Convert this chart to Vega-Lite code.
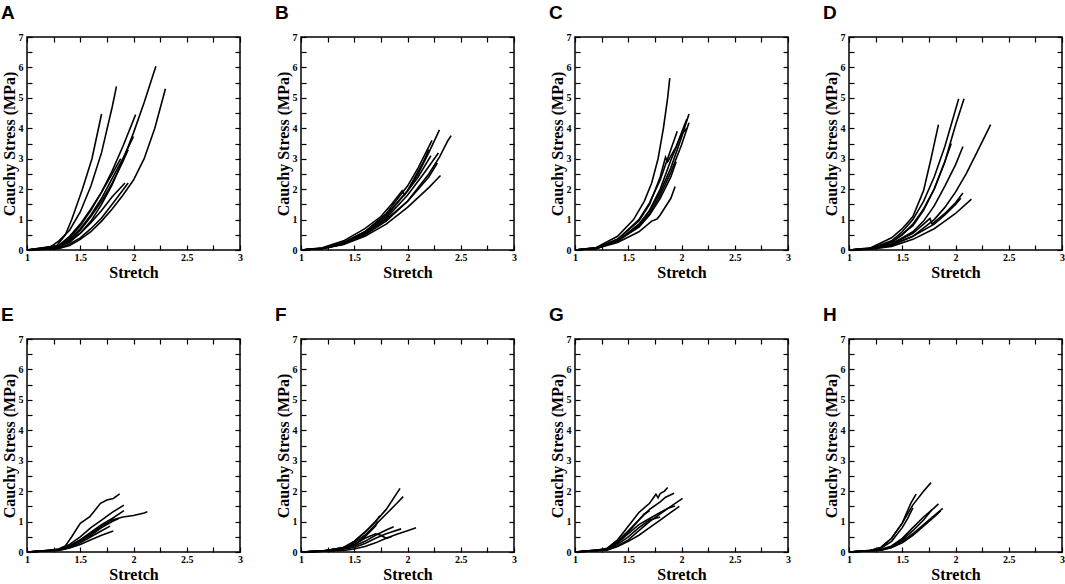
{
  "$schema": "https://vega.github.io/schema/vega-lite/v6.json",
  "background": "white",
  "padding": {"left": 0, "top": 3, "right": 2, "bottom": 1},
  "bounds": "flush",
  "columns": 4,
  "spacing": {"row": 89, "column": 61},
  "data": {
    "values": [
      {"p":"A","c":1,"x":1,"y":0},{"p":"A","c":1,"x":1.2,"y":0.05},{"p":"A","c":1,"x":1.27,"y":0.1},{"p":"A","c":1,"x":1.36,"y":0.5},{"p":"A","c":1,"x":1.42,"y":1.0},{"p":"A","c":1,"x":1.52,"y":2.0},{"p":"A","c":1,"x":1.61,"y":3.0},{"p":"A","c":1,"x":1.7,"y":4.47},
      {"p":"A","c":2,"x":1,"y":0},{"p":"A","c":2,"x":1.2,"y":0.05},{"p":"A","c":2,"x":1.3,"y":0.3},{"p":"A","c":2,"x":1.4,"y":0.65},{"p":"A","c":2,"x":1.5,"y":1.25},{"p":"A","c":2,"x":1.6,"y":2.1},{"p":"A","c":2,"x":1.7,"y":3.2},{"p":"A","c":2,"x":1.8,"y":4.7},{"p":"A","c":2,"x":1.84,"y":5.38},
      {"p":"A","c":3,"x":1,"y":0},{"p":"A","c":3,"x":1.2,"y":0.03},{"p":"A","c":3,"x":1.3,"y":0.1},{"p":"A","c":3,"x":1.4,"y":0.25},{"p":"A","c":3,"x":1.5,"y":0.55},{"p":"A","c":3,"x":1.6,"y":0.95},{"p":"A","c":3,"x":1.7,"y":1.5},{"p":"A","c":3,"x":1.8,"y":2.15},{"p":"A","c":3,"x":1.9,"y":2.95},{"p":"A","c":3,"x":2.0,"y":3.85},{"p":"A","c":3,"x":2.1,"y":4.85},{"p":"A","c":3,"x":2.21,"y":6.04},
      {"p":"A","c":4,"x":1,"y":0},{"p":"A","c":4,"x":1.3,"y":0.05},{"p":"A","c":4,"x":1.4,"y":0.15},{"p":"A","c":4,"x":1.5,"y":0.35},{"p":"A","c":4,"x":1.6,"y":0.6},{"p":"A","c":4,"x":1.7,"y":0.95},{"p":"A","c":4,"x":1.8,"y":1.35},{"p":"A","c":4,"x":1.9,"y":1.8},{"p":"A","c":4,"x":2.0,"y":2.3},{"p":"A","c":4,"x":2.1,"y":3.0},{"p":"A","c":4,"x":2.2,"y":4.0},{"p":"A","c":4,"x":2.3,"y":5.3},
      {"p":"A","c":5,"x":1,"y":0},{"p":"A","c":5,"x":1.3,"y":0.15},{"p":"A","c":5,"x":1.4,"y":0.4},{"p":"A","c":5,"x":1.5,"y":0.8},{"p":"A","c":5,"x":1.6,"y":1.3},{"p":"A","c":5,"x":1.7,"y":1.9},{"p":"A","c":5,"x":1.8,"y":2.6},{"p":"A","c":5,"x":1.9,"y":3.4},{"p":"A","c":5,"x":2.02,"y":4.45},
      {"p":"A","c":6,"x":1,"y":0},{"p":"A","c":6,"x":1.3,"y":0.12},{"p":"A","c":6,"x":1.4,"y":0.35},{"p":"A","c":6,"x":1.5,"y":0.7},{"p":"A","c":6,"x":1.6,"y":1.15},{"p":"A","c":6,"x":1.7,"y":1.7},{"p":"A","c":6,"x":1.8,"y":2.35},{"p":"A","c":6,"x":1.9,"y":3.0},{"p":"A","c":6,"x":2.0,"y":3.73},
      {"p":"A","c":7,"x":1,"y":0},{"p":"A","c":7,"x":1.3,"y":0.1},{"p":"A","c":7,"x":1.4,"y":0.3},{"p":"A","c":7,"x":1.5,"y":0.65},{"p":"A","c":7,"x":1.6,"y":1.1},{"p":"A","c":7,"x":1.7,"y":1.6},{"p":"A","c":7,"x":1.8,"y":2.2},{"p":"A","c":7,"x":1.9,"y":2.9},{"p":"A","c":7,"x":1.95,"y":3.3},
      {"p":"A","c":8,"x":1,"y":0},{"p":"A","c":8,"x":1.3,"y":0.1},{"p":"A","c":8,"x":1.4,"y":0.3},{"p":"A","c":8,"x":1.5,"y":0.55},{"p":"A","c":8,"x":1.6,"y":0.9},{"p":"A","c":8,"x":1.7,"y":1.3},{"p":"A","c":8,"x":1.8,"y":1.75},{"p":"A","c":8,"x":1.92,"y":2.2},
      {"p":"A","c":9,"x":1,"y":0},{"p":"A","c":9,"x":1.3,"y":0.05},{"p":"A","c":9,"x":1.4,"y":0.2},{"p":"A","c":9,"x":1.5,"y":0.4},{"p":"A","c":9,"x":1.6,"y":0.7},{"p":"A","c":9,"x":1.7,"y":1.05},{"p":"A","c":9,"x":1.8,"y":1.5},{"p":"A","c":9,"x":1.95,"y":2.2},
      {"p":"A","c":10,"x":1,"y":0},{"p":"A","c":10,"x":1.3,"y":0.15},{"p":"A","c":10,"x":1.4,"y":0.45},{"p":"A","c":10,"x":1.5,"y":0.85},{"p":"A","c":10,"x":1.6,"y":1.35},{"p":"A","c":10,"x":1.7,"y":1.9},{"p":"A","c":10,"x":1.8,"y":2.5},{"p":"A","c":10,"x":1.88,"y":3.0},

      {"p":"B","c":1,"x":1,"y":0},{"p":"B","c":1,"x":1.2,"y":0.05},{"p":"B","c":1,"x":1.4,"y":0.2},{"p":"B","c":1,"x":1.6,"y":0.55},{"p":"B","c":1,"x":1.8,"y":1.1},{"p":"B","c":1,"x":2.0,"y":1.95},{"p":"B","c":1,"x":2.1,"y":2.5},{"p":"B","c":1,"x":2.2,"y":3.2},{"p":"B","c":1,"x":2.3,"y":3.95},
      {"p":"B","c":2,"x":1,"y":0},{"p":"B","c":2,"x":1.2,"y":0.05},{"p":"B","c":2,"x":1.4,"y":0.2},{"p":"B","c":2,"x":1.6,"y":0.5},{"p":"B","c":2,"x":1.8,"y":0.95},{"p":"B","c":2,"x":2.0,"y":1.6},{"p":"B","c":2,"x":2.2,"y":2.5},{"p":"B","c":2,"x":2.3,"y":3.05},{"p":"B","c":2,"x":2.38,"y":3.6},{"p":"B","c":2,"x":2.41,"y":3.76},
      {"p":"B","c":3,"x":1,"y":0},{"p":"B","c":3,"x":1.2,"y":0.06},{"p":"B","c":3,"x":1.4,"y":0.25},{"p":"B","c":3,"x":1.6,"y":0.6},{"p":"B","c":3,"x":1.8,"y":1.2},{"p":"B","c":3,"x":2.0,"y":2.1},{"p":"B","c":3,"x":2.1,"y":2.7},{"p":"B","c":3,"x":2.23,"y":3.6},
      {"p":"B","c":4,"x":1,"y":0},{"p":"B","c":4,"x":1.2,"y":0.04},{"p":"B","c":4,"x":1.4,"y":0.18},{"p":"B","c":4,"x":1.6,"y":0.45},{"p":"B","c":4,"x":1.8,"y":0.85},{"p":"B","c":4,"x":2.0,"y":1.4},{"p":"B","c":4,"x":2.2,"y":2.05},{"p":"B","c":4,"x":2.31,"y":2.45},
      {"p":"B","c":5,"x":1,"y":0},{"p":"B","c":5,"x":1.2,"y":0.05},{"p":"B","c":5,"x":1.4,"y":0.2},{"p":"B","c":5,"x":1.6,"y":0.5},{"p":"B","c":5,"x":1.8,"y":1.0},{"p":"B","c":5,"x":2.0,"y":1.6},{"p":"B","c":5,"x":2.2,"y":2.4},{"p":"B","c":5,"x":2.28,"y":2.86},
      {"p":"B","c":6,"x":1,"y":0},{"p":"B","c":6,"x":1.2,"y":0.07},{"p":"B","c":6,"x":1.4,"y":0.3},{"p":"B","c":6,"x":1.6,"y":0.7},{"p":"B","c":6,"x":1.75,"y":1.1},{"p":"B","c":6,"x":1.85,"y":1.5},{"p":"B","c":6,"x":1.95,"y":1.95},{"p":"B","c":6,"x":1.97,"y":1.8},{"p":"B","c":6,"x":2.1,"y":2.4},{"p":"B","c":6,"x":2.22,"y":3.1},
      {"p":"B","c":7,"x":1,"y":0},{"p":"B","c":7,"x":1.2,"y":0.05},{"p":"B","c":7,"x":1.4,"y":0.22},{"p":"B","c":7,"x":1.6,"y":0.55},{"p":"B","c":7,"x":1.8,"y":1.05},{"p":"B","c":7,"x":2.0,"y":1.8},{"p":"B","c":7,"x":2.15,"y":2.5},{"p":"B","c":7,"x":2.29,"y":3.19},
      {"p":"B","c":8,"x":1,"y":0},{"p":"B","c":8,"x":1.2,"y":0.06},{"p":"B","c":8,"x":1.4,"y":0.25},{"p":"B","c":8,"x":1.6,"y":0.6},{"p":"B","c":8,"x":1.8,"y":1.15},{"p":"B","c":8,"x":2.0,"y":1.95},{"p":"B","c":8,"x":2.15,"y":2.9},{"p":"B","c":8,"x":2.2,"y":3.3},

      {"p":"C","c":1,"x":1,"y":0},{"p":"C","c":1,"x":1.2,"y":0.08},{"p":"C","c":1,"x":1.4,"y":0.45},{"p":"C","c":1,"x":1.55,"y":1.0},{"p":"C","c":1,"x":1.65,"y":1.6},{"p":"C","c":1,"x":1.72,"y":2.2},{"p":"C","c":1,"x":1.78,"y":3.0},{"p":"C","c":1,"x":1.83,"y":4.0},{"p":"C","c":1,"x":1.87,"y":5.0},{"p":"C","c":1,"x":1.89,"y":5.65},
      {"p":"C","c":2,"x":1,"y":0},{"p":"C","c":2,"x":1.2,"y":0.07},{"p":"C","c":2,"x":1.4,"y":0.35},{"p":"C","c":2,"x":1.6,"y":1.0},{"p":"C","c":2,"x":1.7,"y":1.55},{"p":"C","c":2,"x":1.8,"y":2.3},{"p":"C","c":2,"x":1.9,"y":3.3},{"p":"C","c":2,"x":1.96,"y":3.9},
      {"p":"C","c":3,"x":1,"y":0},{"p":"C","c":3,"x":1.2,"y":0.05},{"p":"C","c":3,"x":1.4,"y":0.3},{"p":"C","c":3,"x":1.6,"y":0.85},{"p":"C","c":3,"x":1.7,"y":1.3},{"p":"C","c":3,"x":1.8,"y":1.9},{"p":"C","c":3,"x":1.9,"y":2.7},{"p":"C","c":3,"x":2.0,"y":3.7},{"p":"C","c":3,"x":2.07,"y":4.47},
      {"p":"C","c":4,"x":1,"y":0},{"p":"C","c":4,"x":1.2,"y":0.05},{"p":"C","c":4,"x":1.4,"y":0.28},{"p":"C","c":4,"x":1.6,"y":0.8},{"p":"C","c":4,"x":1.7,"y":1.2},{"p":"C","c":4,"x":1.8,"y":1.8},{"p":"C","c":4,"x":1.9,"y":2.55},{"p":"C","c":4,"x":2.0,"y":3.45},{"p":"C","c":4,"x":2.07,"y":4.18},
      {"p":"C","c":5,"x":1,"y":0},{"p":"C","c":5,"x":1.2,"y":0.05},{"p":"C","c":5,"x":1.4,"y":0.25},{"p":"C","c":5,"x":1.6,"y":0.6},{"p":"C","c":5,"x":1.72,"y":0.95},{"p":"C","c":5,"x":1.77,"y":1.02},{"p":"C","c":5,"x":1.8,"y":1.15},{"p":"C","c":5,"x":1.9,"y":1.7},{"p":"C","c":5,"x":1.94,"y":2.09},
      {"p":"C","c":6,"x":1,"y":0},{"p":"C","c":6,"x":1.2,"y":0.07},{"p":"C","c":6,"x":1.4,"y":0.35},{"p":"C","c":6,"x":1.6,"y":0.95},{"p":"C","c":6,"x":1.7,"y":1.5},{"p":"C","c":6,"x":1.8,"y":2.4},{"p":"C","c":6,"x":1.85,"y":3.05},{"p":"C","c":6,"x":1.87,"y":2.9},{"p":"C","c":6,"x":1.95,"y":3.4},{"p":"C","c":6,"x":2.05,"y":4.3},
      {"p":"C","c":7,"x":1,"y":0},{"p":"C","c":7,"x":1.2,"y":0.05},{"p":"C","c":7,"x":1.4,"y":0.3},{"p":"C","c":7,"x":1.6,"y":0.8},{"p":"C","c":7,"x":1.7,"y":1.3},{"p":"C","c":7,"x":1.8,"y":2.0},{"p":"C","c":7,"x":1.9,"y":2.95},{"p":"C","c":7,"x":2.0,"y":3.8},{"p":"C","c":7,"x":2.05,"y":4.0},
      {"p":"C","c":8,"x":1,"y":0},{"p":"C","c":8,"x":1.2,"y":0.06},{"p":"C","c":8,"x":1.4,"y":0.3},{"p":"C","c":8,"x":1.6,"y":0.75},{"p":"C","c":8,"x":1.7,"y":1.15},{"p":"C","c":8,"x":1.8,"y":1.7},{"p":"C","c":8,"x":1.9,"y":2.4},{"p":"C","c":8,"x":1.95,"y":2.9},

      {"p":"D","c":1,"x":1,"y":0},{"p":"D","c":1,"x":1.2,"y":0.07},{"p":"D","c":1,"x":1.4,"y":0.4},{"p":"D","c":1,"x":1.5,"y":0.7},{"p":"D","c":1,"x":1.6,"y":1.1},{"p":"D","c":1,"x":1.7,"y":1.95},{"p":"D","c":1,"x":1.77,"y":3.0},{"p":"D","c":1,"x":1.84,"y":4.12},
      {"p":"D","c":2,"x":1,"y":0},{"p":"D","c":2,"x":1.2,"y":0.05},{"p":"D","c":2,"x":1.4,"y":0.3},{"p":"D","c":2,"x":1.5,"y":0.6},{"p":"D","c":2,"x":1.6,"y":1.0},{"p":"D","c":2,"x":1.7,"y":1.6},{"p":"D","c":2,"x":1.8,"y":2.4},{"p":"D","c":2,"x":1.9,"y":3.4},{"p":"D","c":2,"x":2.03,"y":4.97},
      {"p":"D","c":3,"x":1,"y":0},{"p":"D","c":3,"x":1.2,"y":0.05},{"p":"D","c":3,"x":1.4,"y":0.25},{"p":"D","c":3,"x":1.5,"y":0.5},{"p":"D","c":3,"x":1.6,"y":0.85},{"p":"D","c":3,"x":1.7,"y":1.35},{"p":"D","c":3,"x":1.8,"y":2.0},{"p":"D","c":3,"x":1.9,"y":2.9},{"p":"D","c":3,"x":2.0,"y":4.1},{"p":"D","c":3,"x":2.08,"y":4.97},
      {"p":"D","c":4,"x":1,"y":0},{"p":"D","c":4,"x":1.2,"y":0.05},{"p":"D","c":4,"x":1.4,"y":0.25},{"p":"D","c":4,"x":1.6,"y":0.8},{"p":"D","c":4,"x":1.7,"y":1.3},{"p":"D","c":4,"x":1.8,"y":2.0},{"p":"D","c":4,"x":1.9,"y":2.9},{"p":"D","c":4,"x":1.96,"y":3.5},
      {"p":"D","c":5,"x":1,"y":0},{"p":"D","c":5,"x":1.2,"y":0.04},{"p":"D","c":5,"x":1.4,"y":0.2},{"p":"D","c":5,"x":1.6,"y":0.6},{"p":"D","c":5,"x":1.7,"y":0.95},{"p":"D","c":5,"x":1.8,"y":1.45},{"p":"D","c":5,"x":1.9,"y":2.1},{"p":"D","c":5,"x":2.0,"y":2.8},{"p":"D","c":5,"x":2.07,"y":3.4},
      {"p":"D","c":6,"x":1,"y":0},{"p":"D","c":6,"x":1.2,"y":0.03},{"p":"D","c":6,"x":1.4,"y":0.15},{"p":"D","c":6,"x":1.6,"y":0.45},{"p":"D","c":6,"x":1.8,"y":1.0},{"p":"D","c":6,"x":1.9,"y":1.4},{"p":"D","c":6,"x":2.0,"y":1.9},{"p":"D","c":6,"x":2.1,"y":2.5},{"p":"D","c":6,"x":2.2,"y":3.2},{"p":"D","c":6,"x":2.33,"y":4.12},
      {"p":"D","c":7,"x":1,"y":0},{"p":"D","c":7,"x":1.2,"y":0.04},{"p":"D","c":7,"x":1.4,"y":0.2},{"p":"D","c":7,"x":1.6,"y":0.55},{"p":"D","c":7,"x":1.7,"y":0.85},{"p":"D","c":7,"x":1.76,"y":1.04},{"p":"D","c":7,"x":1.78,"y":0.85},{"p":"D","c":7,"x":1.9,"y":1.2},{"p":"D","c":7,"x":2.0,"y":1.55},{"p":"D","c":7,"x":2.07,"y":1.87},
      {"p":"D","c":8,"x":1,"y":0},{"p":"D","c":8,"x":1.2,"y":0.03},{"p":"D","c":8,"x":1.4,"y":0.12},{"p":"D","c":8,"x":1.6,"y":0.35},{"p":"D","c":8,"x":1.8,"y":0.7},{"p":"D","c":8,"x":1.9,"y":0.95},{"p":"D","c":8,"x":2.0,"y":1.2},{"p":"D","c":8,"x":2.15,"y":1.67},
      {"p":"D","c":9,"x":1,"y":0},{"p":"D","c":9,"x":1.2,"y":0.04},{"p":"D","c":9,"x":1.4,"y":0.18},{"p":"D","c":9,"x":1.6,"y":0.45},{"p":"D","c":9,"x":1.8,"y":0.85},{"p":"D","c":9,"x":1.9,"y":1.15},{"p":"D","c":9,"x":2.0,"y":1.5},{"p":"D","c":9,"x":2.05,"y":1.7},

      {"p":"E","c":1,"x":1,"y":0},{"p":"E","c":1,"x":1.2,"y":0.04},{"p":"E","c":1,"x":1.3,"y":0.1},{"p":"E","c":1,"x":1.36,"y":0.2},{"p":"E","c":1,"x":1.42,"y":0.5},{"p":"E","c":1,"x":1.5,"y":0.94},{"p":"E","c":1,"x":1.59,"y":1.16},{"p":"E","c":1,"x":1.69,"y":1.6},{"p":"E","c":1,"x":1.75,"y":1.71},{"p":"E","c":1,"x":1.81,"y":1.76},{"p":"E","c":1,"x":1.87,"y":1.91},
      {"p":"E","c":2,"x":1,"y":0},{"p":"E","c":2,"x":1.2,"y":0.04},{"p":"E","c":2,"x":1.3,"y":0.1},{"p":"E","c":2,"x":1.4,"y":0.25},{"p":"E","c":2,"x":1.5,"y":0.5},{"p":"E","c":2,"x":1.6,"y":0.8},{"p":"E","c":2,"x":1.7,"y":1.05},{"p":"E","c":2,"x":1.8,"y":1.3},{"p":"E","c":2,"x":1.91,"y":1.54},
      {"p":"E","c":3,"x":1,"y":0},{"p":"E","c":3,"x":1.3,"y":0.08},{"p":"E","c":3,"x":1.4,"y":0.2},{"p":"E","c":3,"x":1.5,"y":0.4},{"p":"E","c":3,"x":1.6,"y":0.65},{"p":"E","c":3,"x":1.7,"y":0.9},{"p":"E","c":3,"x":1.8,"y":1.1},{"p":"E","c":3,"x":1.91,"y":1.36},
      {"p":"E","c":4,"x":1,"y":0},{"p":"E","c":4,"x":1.3,"y":0.08},{"p":"E","c":4,"x":1.4,"y":0.2},{"p":"E","c":4,"x":1.5,"y":0.4},{"p":"E","c":4,"x":1.6,"y":0.6},{"p":"E","c":4,"x":1.7,"y":0.85},{"p":"E","c":4,"x":1.8,"y":1.05},{"p":"E","c":4,"x":1.9,"y":1.15},{"p":"E","c":4,"x":2.0,"y":1.2},{"p":"E","c":4,"x":2.1,"y":1.28},{"p":"E","c":4,"x":2.13,"y":1.32},
      {"p":"E","c":5,"x":1,"y":0},{"p":"E","c":5,"x":1.3,"y":0.05},{"p":"E","c":5,"x":1.4,"y":0.13},{"p":"E","c":5,"x":1.5,"y":0.25},{"p":"E","c":5,"x":1.6,"y":0.4},{"p":"E","c":5,"x":1.7,"y":0.55},{"p":"E","c":5,"x":1.81,"y":0.69},
      {"p":"E","c":6,"x":1,"y":0},{"p":"E","c":6,"x":1.3,"y":0.07},{"p":"E","c":6,"x":1.4,"y":0.18},{"p":"E","c":6,"x":1.5,"y":0.35},{"p":"E","c":6,"x":1.6,"y":0.55},{"p":"E","c":6,"x":1.7,"y":0.8},{"p":"E","c":6,"x":1.8,"y":1.0},{"p":"E","c":6,"x":1.86,"y":1.1},
      {"p":"E","c":7,"x":1,"y":0},{"p":"E","c":7,"x":1.3,"y":0.06},{"p":"E","c":7,"x":1.4,"y":0.15},{"p":"E","c":7,"x":1.5,"y":0.3},{"p":"E","c":7,"x":1.6,"y":0.5},{"p":"E","c":7,"x":1.7,"y":0.7},{"p":"E","c":7,"x":1.78,"y":0.85},

      {"p":"F","c":1,"x":1,"y":0},{"p":"F","c":1,"x":1.2,"y":0.03},{"p":"F","c":1,"x":1.4,"y":0.15},{"p":"F","c":1,"x":1.5,"y":0.35},{"p":"F","c":1,"x":1.6,"y":0.65},{"p":"F","c":1,"x":1.7,"y":1.0},{"p":"F","c":1,"x":1.8,"y":1.4},{"p":"F","c":1,"x":1.93,"y":2.09},
      {"p":"F","c":2,"x":1,"y":0},{"p":"F","c":2,"x":1.2,"y":0.03},{"p":"F","c":2,"x":1.4,"y":0.13},{"p":"F","c":2,"x":1.5,"y":0.3},{"p":"F","c":2,"x":1.6,"y":0.55},{"p":"F","c":2,"x":1.7,"y":0.9},{"p":"F","c":2,"x":1.8,"y":1.25},{"p":"F","c":2,"x":1.9,"y":1.6},{"p":"F","c":2,"x":1.96,"y":1.82},
      {"p":"F","c":3,"x":1,"y":0},{"p":"F","c":3,"x":1.2,"y":0.03},{"p":"F","c":3,"x":1.4,"y":0.15},{"p":"F","c":3,"x":1.5,"y":0.35},{"p":"F","c":3,"x":1.6,"y":0.65},{"p":"F","c":3,"x":1.7,"y":1.0},{"p":"F","c":3,"x":1.74,"y":1.19},
      {"p":"F","c":4,"x":1,"y":0},{"p":"F","c":4,"x":1.3,"y":0.05},{"p":"F","c":4,"x":1.5,"y":0.2},{"p":"F","c":4,"x":1.6,"y":0.35},{"p":"F","c":4,"x":1.7,"y":0.55},{"p":"F","c":4,"x":1.8,"y":0.72},{"p":"F","c":4,"x":1.87,"y":0.83},
      {"p":"F","c":5,"x":1,"y":0},{"p":"F","c":5,"x":1.3,"y":0.04},{"p":"F","c":5,"x":1.5,"y":0.15},{"p":"F","c":5,"x":1.6,"y":0.28},{"p":"F","c":5,"x":1.7,"y":0.45},{"p":"F","c":5,"x":1.8,"y":0.6},{"p":"F","c":5,"x":1.94,"y":0.76},
      {"p":"F","c":6,"x":1,"y":0},{"p":"F","c":6,"x":1.4,"y":0.05},{"p":"F","c":6,"x":1.5,"y":0.1},{"p":"F","c":6,"x":1.6,"y":0.18},{"p":"F","c":6,"x":1.7,"y":0.3},{"p":"F","c":6,"x":1.8,"y":0.45},{"p":"F","c":6,"x":1.9,"y":0.58},{"p":"F","c":6,"x":2.0,"y":0.7},{"p":"F","c":6,"x":2.08,"y":0.8},
      {"p":"F","c":7,"x":1,"y":0},{"p":"F","c":7,"x":1.3,"y":0.05},{"p":"F","c":7,"x":1.5,"y":0.25},{"p":"F","c":7,"x":1.6,"y":0.45},{"p":"F","c":7,"x":1.7,"y":0.6},{"p":"F","c":7,"x":1.75,"y":0.55},{"p":"F","c":7,"x":1.8,"y":0.45},{"p":"F","c":7,"x":1.85,"y":0.5},
      {"p":"F","c":8,"x":1,"y":0},{"p":"F","c":8,"x":1.3,"y":0.04},{"p":"F","c":8,"x":1.5,"y":0.22},{"p":"F","c":8,"x":1.6,"y":0.5},{"p":"F","c":8,"x":1.7,"y":0.85},{"p":"F","c":8,"x":1.72,"y":1.0},

      {"p":"G","c":1,"x":1,"y":0},{"p":"G","c":1,"x":1.2,"y":0.04},{"p":"G","c":1,"x":1.3,"y":0.12},{"p":"G","c":1,"x":1.4,"y":0.4},{"p":"G","c":1,"x":1.5,"y":0.85},{"p":"G","c":1,"x":1.6,"y":1.3},{"p":"G","c":1,"x":1.65,"y":1.45},{"p":"G","c":1,"x":1.7,"y":1.6},{"p":"G","c":1,"x":1.73,"y":1.75},{"p":"G","c":1,"x":1.76,"y":1.9},{"p":"G","c":1,"x":1.78,"y":1.78},{"p":"G","c":1,"x":1.8,"y":1.92},{"p":"G","c":1,"x":1.84,"y":2.0},{"p":"G","c":1,"x":1.87,"y":2.12},
      {"p":"G","c":2,"x":1,"y":0},{"p":"G","c":2,"x":1.2,"y":0.04},{"p":"G","c":2,"x":1.3,"y":0.1},{"p":"G","c":2,"x":1.4,"y":0.35},{"p":"G","c":2,"x":1.5,"y":0.7},{"p":"G","c":2,"x":1.6,"y":1.05},{"p":"G","c":2,"x":1.7,"y":1.4},{"p":"G","c":2,"x":1.8,"y":1.65},{"p":"G","c":2,"x":1.85,"y":1.8},{"p":"G","c":2,"x":1.93,"y":1.93},
      {"p":"G","c":3,"x":1,"y":0},{"p":"G","c":3,"x":1.3,"y":0.08},{"p":"G","c":3,"x":1.4,"y":0.2},{"p":"G","c":3,"x":1.5,"y":0.4},{"p":"G","c":3,"x":1.6,"y":0.7},{"p":"G","c":3,"x":1.7,"y":1.0},{"p":"G","c":3,"x":1.8,"y":1.25},{"p":"G","c":3,"x":1.9,"y":1.5},{"p":"G","c":3,"x":2.01,"y":1.76},
      {"p":"G","c":4,"x":1,"y":0},{"p":"G","c":4,"x":1.3,"y":0.1},{"p":"G","c":4,"x":1.4,"y":0.3},{"p":"G","c":4,"x":1.5,"y":0.6},{"p":"G","c":4,"x":1.6,"y":0.9},{"p":"G","c":4,"x":1.7,"y":1.1},{"p":"G","c":4,"x":1.8,"y":1.3},{"p":"G","c":4,"x":1.88,"y":1.45},{"p":"G","c":4,"x":1.94,"y":1.51},
      {"p":"G","c":5,"x":1,"y":0},{"p":"G","c":5,"x":1.3,"y":0.1},{"p":"G","c":5,"x":1.4,"y":0.3},{"p":"G","c":5,"x":1.5,"y":0.65},{"p":"G","c":5,"x":1.55,"y":0.85},{"p":"G","c":5,"x":1.6,"y":1.05},{"p":"G","c":5,"x":1.65,"y":1.25},{"p":"G","c":5,"x":1.7,"y":1.35},
      {"p":"G","c":6,"x":1,"y":0},{"p":"G","c":6,"x":1.3,"y":0.08},{"p":"G","c":6,"x":1.4,"y":0.25},{"p":"G","c":6,"x":1.5,"y":0.5},{"p":"G","c":6,"x":1.6,"y":0.8},{"p":"G","c":6,"x":1.7,"y":1.05},{"p":"G","c":6,"x":1.8,"y":1.15},
      {"p":"G","c":7,"x":1,"y":0},{"p":"G","c":7,"x":1.3,"y":0.06},{"p":"G","c":7,"x":1.4,"y":0.18},{"p":"G","c":7,"x":1.5,"y":0.35},{"p":"G","c":7,"x":1.6,"y":0.55},{"p":"G","c":7,"x":1.7,"y":0.8},{"p":"G","c":7,"x":1.8,"y":1.05},{"p":"G","c":7,"x":1.9,"y":1.3},{"p":"G","c":7,"x":1.98,"y":1.5},

      {"p":"H","c":1,"x":1,"y":0},{"p":"H","c":1,"x":1.2,"y":0.05},{"p":"H","c":1,"x":1.3,"y":0.15},{"p":"H","c":1,"x":1.4,"y":0.45},{"p":"H","c":1,"x":1.5,"y":0.95},{"p":"H","c":1,"x":1.6,"y":1.55},{"p":"H","c":1,"x":1.7,"y":2.0},{"p":"H","c":1,"x":1.77,"y":2.28},
      {"p":"H","c":2,"x":1,"y":0},{"p":"H","c":2,"x":1.2,"y":0.05},{"p":"H","c":2,"x":1.3,"y":0.15},{"p":"H","c":2,"x":1.4,"y":0.45},{"p":"H","c":2,"x":1.5,"y":0.95},{"p":"H","c":2,"x":1.58,"y":1.6},{"p":"H","c":2,"x":1.63,"y":1.9},
      {"p":"H","c":3,"x":1,"y":0},{"p":"H","c":3,"x":1.2,"y":0.04},{"p":"H","c":3,"x":1.3,"y":0.12},{"p":"H","c":3,"x":1.4,"y":0.35},{"p":"H","c":3,"x":1.5,"y":0.8},{"p":"H","c":3,"x":1.55,"y":1.1},{"p":"H","c":3,"x":1.6,"y":1.45},
      {"p":"H","c":4,"x":1,"y":0},{"p":"H","c":4,"x":1.3,"y":0.08},{"p":"H","c":4,"x":1.4,"y":0.2},{"p":"H","c":4,"x":1.5,"y":0.45},{"p":"H","c":4,"x":1.6,"y":0.8},{"p":"H","c":4,"x":1.7,"y":1.15},{"p":"H","c":4,"x":1.8,"y":1.45},{"p":"H","c":4,"x":1.84,"y":1.58},
      {"p":"H","c":5,"x":1,"y":0},{"p":"H","c":5,"x":1.3,"y":0.06},{"p":"H","c":5,"x":1.4,"y":0.15},{"p":"H","c":5,"x":1.5,"y":0.35},{"p":"H","c":5,"x":1.6,"y":0.6},{"p":"H","c":5,"x":1.7,"y":0.9},{"p":"H","c":5,"x":1.8,"y":1.2},{"p":"H","c":5,"x":1.88,"y":1.43},
      {"p":"H","c":6,"x":1,"y":0},{"p":"H","c":6,"x":1.3,"y":0.07},{"p":"H","c":6,"x":1.4,"y":0.18},{"p":"H","c":6,"x":1.5,"y":0.4},{"p":"H","c":6,"x":1.6,"y":0.7},{"p":"H","c":6,"x":1.7,"y":1.05},{"p":"H","c":6,"x":1.78,"y":1.4},
      {"p":"H","c":7,"x":1,"y":0},{"p":"H","c":7,"x":1.3,"y":0.06},{"p":"H","c":7,"x":1.4,"y":0.15},{"p":"H","c":7,"x":1.5,"y":0.3},{"p":"H","c":7,"x":1.6,"y":0.55},{"p":"H","c":7,"x":1.7,"y":0.85},{"p":"H","c":7,"x":1.8,"y":1.15},{"p":"H","c":7,"x":1.86,"y":1.35}
    ]
  },
  "concat": [
    {"title": "A", "transform": [{"filter": "datum.p == 'A'"}], "width": 213, "height": 213,
     "layer": [
      {"mark": {"type": "line", "color": "black", "strokeWidth": 1.6},
       "encoding": {
        "x": {"field": "x", "type": "quantitative", "scale": {"domain": [1, 3]}, "title": "Stretch", "axis": {"format": "~g", "values": [1,1.25,1.5,1.75,2,2.25,2.5,2.75,3], "labelExpr": "datum.value % 0.5 == 0 ? datum.label : ''"}},
        "y": {"field": "y", "type": "quantitative", "scale": {"domain": [0, 7]}, "title": "Cauchy Stress (MPa)", "axis": {"format": "~g", "values": [0,0.5,1,1.5,2,2.5,3,3.5,4,4.5,5,5.5,6,6.5,7], "labelExpr": "datum.value % 1 == 0 ? datum.label : ''"}},
        "detail": {"field": "c"}}},
      {"mark": {"type": "line", "opacity": 0},
       "encoding": {
        "x": {"field": "x", "type": "quantitative", "scale": {"domain": [1, 3]}, "axis": {"orient": "top", "title": null, "values": [1,1.25,1.5,1.75,2,2.25,2.5,2.75,3]}},
        "y": {"field": "y", "type": "quantitative", "scale": {"domain": [0, 7]}, "axis": {"orient": "right", "title": null, "values": [0,0.5,1,1.5,2,2.5,3,3.5,4,4.5,5,5.5,6,6.5,7]}},
        "detail": {"field": "c"}}}
     ],
     "resolve": {"axis": {"x": "independent", "y": "independent"}}},
    {"title": "B", "transform": [{"filter": "datum.p == 'B'"}], "width": 213, "height": 213,
     "layer": [
      {"mark": {"type": "line", "color": "black", "strokeWidth": 1.6},
       "encoding": {
        "x": {"field": "x", "type": "quantitative", "scale": {"domain": [1, 3]}, "title": "Stretch", "axis": {"format": "~g", "values": [1,1.25,1.5,1.75,2,2.25,2.5,2.75,3], "labelExpr": "datum.value % 0.5 == 0 ? datum.label : ''"}},
        "y": {"field": "y", "type": "quantitative", "scale": {"domain": [0, 7]}, "title": "Cauchy Stress (MPa)", "axis": {"format": "~g", "values": [0,0.5,1,1.5,2,2.5,3,3.5,4,4.5,5,5.5,6,6.5,7], "labelExpr": "datum.value % 1 == 0 ? datum.label : ''"}},
        "detail": {"field": "c"}}},
      {"mark": {"type": "line", "opacity": 0},
       "encoding": {
        "x": {"field": "x", "type": "quantitative", "scale": {"domain": [1, 3]}, "axis": {"orient": "top", "title": null, "values": [1,1.25,1.5,1.75,2,2.25,2.5,2.75,3]}},
        "y": {"field": "y", "type": "quantitative", "scale": {"domain": [0, 7]}, "axis": {"orient": "right", "title": null, "values": [0,0.5,1,1.5,2,2.5,3,3.5,4,4.5,5,5.5,6,6.5,7]}},
        "detail": {"field": "c"}}}
     ],
     "resolve": {"axis": {"x": "independent", "y": "independent"}}},
    {"title": "C", "transform": [{"filter": "datum.p == 'C'"}], "width": 213, "height": 213,
     "layer": [
      {"mark": {"type": "line", "color": "black", "strokeWidth": 1.6},
       "encoding": {
        "x": {"field": "x", "type": "quantitative", "scale": {"domain": [1, 3]}, "title": "Stretch", "axis": {"format": "~g", "values": [1,1.25,1.5,1.75,2,2.25,2.5,2.75,3], "labelExpr": "datum.value % 0.5 == 0 ? datum.label : ''"}},
        "y": {"field": "y", "type": "quantitative", "scale": {"domain": [0, 7]}, "title": "Cauchy Stress (MPa)", "axis": {"format": "~g", "values": [0,0.5,1,1.5,2,2.5,3,3.5,4,4.5,5,5.5,6,6.5,7], "labelExpr": "datum.value % 1 == 0 ? datum.label : ''"}},
        "detail": {"field": "c"}}},
      {"mark": {"type": "line", "opacity": 0},
       "encoding": {
        "x": {"field": "x", "type": "quantitative", "scale": {"domain": [1, 3]}, "axis": {"orient": "top", "title": null, "values": [1,1.25,1.5,1.75,2,2.25,2.5,2.75,3]}},
        "y": {"field": "y", "type": "quantitative", "scale": {"domain": [0, 7]}, "axis": {"orient": "right", "title": null, "values": [0,0.5,1,1.5,2,2.5,3,3.5,4,4.5,5,5.5,6,6.5,7]}},
        "detail": {"field": "c"}}}
     ],
     "resolve": {"axis": {"x": "independent", "y": "independent"}}},
    {"title": "D", "transform": [{"filter": "datum.p == 'D'"}], "width": 213, "height": 213,
     "layer": [
      {"mark": {"type": "line", "color": "black", "strokeWidth": 1.6},
       "encoding": {
        "x": {"field": "x", "type": "quantitative", "scale": {"domain": [1, 3]}, "title": "Stretch", "axis": {"format": "~g", "values": [1,1.25,1.5,1.75,2,2.25,2.5,2.75,3], "labelExpr": "datum.value % 0.5 == 0 ? datum.label : ''"}},
        "y": {"field": "y", "type": "quantitative", "scale": {"domain": [0, 7]}, "title": "Cauchy Stress (MPa)", "axis": {"format": "~g", "values": [0,0.5,1,1.5,2,2.5,3,3.5,4,4.5,5,5.5,6,6.5,7], "labelExpr": "datum.value % 1 == 0 ? datum.label : ''"}},
        "detail": {"field": "c"}}},
      {"mark": {"type": "line", "opacity": 0},
       "encoding": {
        "x": {"field": "x", "type": "quantitative", "scale": {"domain": [1, 3]}, "axis": {"orient": "top", "title": null, "values": [1,1.25,1.5,1.75,2,2.25,2.5,2.75,3]}},
        "y": {"field": "y", "type": "quantitative", "scale": {"domain": [0, 7]}, "axis": {"orient": "right", "title": null, "values": [0,0.5,1,1.5,2,2.5,3,3.5,4,4.5,5,5.5,6,6.5,7]}},
        "detail": {"field": "c"}}}
     ],
     "resolve": {"axis": {"x": "independent", "y": "independent"}}},
    {"title": "E", "transform": [{"filter": "datum.p == 'E'"}], "width": 213, "height": 213,
     "layer": [
      {"mark": {"type": "line", "color": "black", "strokeWidth": 1.6},
       "encoding": {
        "x": {"field": "x", "type": "quantitative", "scale": {"domain": [1, 3]}, "title": "Stretch", "axis": {"format": "~g", "values": [1,1.25,1.5,1.75,2,2.25,2.5,2.75,3], "labelExpr": "datum.value % 0.5 == 0 ? datum.label : ''"}},
        "y": {"field": "y", "type": "quantitative", "scale": {"domain": [0, 7]}, "title": "Cauchy Stress (MPa)", "axis": {"format": "~g", "values": [0,0.5,1,1.5,2,2.5,3,3.5,4,4.5,5,5.5,6,6.5,7], "labelExpr": "datum.value % 1 == 0 ? datum.label : ''"}},
        "detail": {"field": "c"}}},
      {"mark": {"type": "line", "opacity": 0},
       "encoding": {
        "x": {"field": "x", "type": "quantitative", "scale": {"domain": [1, 3]}, "axis": {"orient": "top", "title": null, "values": [1,1.25,1.5,1.75,2,2.25,2.5,2.75,3]}},
        "y": {"field": "y", "type": "quantitative", "scale": {"domain": [0, 7]}, "axis": {"orient": "right", "title": null, "values": [0,0.5,1,1.5,2,2.5,3,3.5,4,4.5,5,5.5,6,6.5,7]}},
        "detail": {"field": "c"}}}
     ],
     "resolve": {"axis": {"x": "independent", "y": "independent"}}},
    {"title": "F", "transform": [{"filter": "datum.p == 'F'"}], "width": 213, "height": 213,
     "layer": [
      {"mark": {"type": "line", "color": "black", "strokeWidth": 1.6},
       "encoding": {
        "x": {"field": "x", "type": "quantitative", "scale": {"domain": [1, 3]}, "title": "Stretch", "axis": {"format": "~g", "values": [1,1.25,1.5,1.75,2,2.25,2.5,2.75,3], "labelExpr": "datum.value % 0.5 == 0 ? datum.label : ''"}},
        "y": {"field": "y", "type": "quantitative", "scale": {"domain": [0, 7]}, "title": "Cauchy Stress (MPa)", "axis": {"format": "~g", "values": [0,0.5,1,1.5,2,2.5,3,3.5,4,4.5,5,5.5,6,6.5,7], "labelExpr": "datum.value % 1 == 0 ? datum.label : ''"}},
        "detail": {"field": "c"}}},
      {"mark": {"type": "line", "opacity": 0},
       "encoding": {
        "x": {"field": "x", "type": "quantitative", "scale": {"domain": [1, 3]}, "axis": {"orient": "top", "title": null, "values": [1,1.25,1.5,1.75,2,2.25,2.5,2.75,3]}},
        "y": {"field": "y", "type": "quantitative", "scale": {"domain": [0, 7]}, "axis": {"orient": "right", "title": null, "values": [0,0.5,1,1.5,2,2.5,3,3.5,4,4.5,5,5.5,6,6.5,7]}},
        "detail": {"field": "c"}}}
     ],
     "resolve": {"axis": {"x": "independent", "y": "independent"}}},
    {"title": "G", "transform": [{"filter": "datum.p == 'G'"}], "width": 213, "height": 213,
     "layer": [
      {"mark": {"type": "line", "color": "black", "strokeWidth": 1.6},
       "encoding": {
        "x": {"field": "x", "type": "quantitative", "scale": {"domain": [1, 3]}, "title": "Stretch", "axis": {"format": "~g", "values": [1,1.25,1.5,1.75,2,2.25,2.5,2.75,3], "labelExpr": "datum.value % 0.5 == 0 ? datum.label : ''"}},
        "y": {"field": "y", "type": "quantitative", "scale": {"domain": [0, 7]}, "title": "Cauchy Stress (MPa)", "axis": {"format": "~g", "values": [0,0.5,1,1.5,2,2.5,3,3.5,4,4.5,5,5.5,6,6.5,7], "labelExpr": "datum.value % 1 == 0 ? datum.label : ''"}},
        "detail": {"field": "c"}}},
      {"mark": {"type": "line", "opacity": 0},
       "encoding": {
        "x": {"field": "x", "type": "quantitative", "scale": {"domain": [1, 3]}, "axis": {"orient": "top", "title": null, "values": [1,1.25,1.5,1.75,2,2.25,2.5,2.75,3]}},
        "y": {"field": "y", "type": "quantitative", "scale": {"domain": [0, 7]}, "axis": {"orient": "right", "title": null, "values": [0,0.5,1,1.5,2,2.5,3,3.5,4,4.5,5,5.5,6,6.5,7]}},
        "detail": {"field": "c"}}}
     ],
     "resolve": {"axis": {"x": "independent", "y": "independent"}}},
    {"title": "H", "transform": [{"filter": "datum.p == 'H'"}], "width": 213, "height": 213,
     "layer": [
      {"mark": {"type": "line", "color": "black", "strokeWidth": 1.6},
       "encoding": {
        "x": {"field": "x", "type": "quantitative", "scale": {"domain": [1, 3]}, "title": "Stretch", "axis": {"format": "~g", "values": [1,1.25,1.5,1.75,2,2.25,2.5,2.75,3], "labelExpr": "datum.value % 0.5 == 0 ? datum.label : ''"}},
        "y": {"field": "y", "type": "quantitative", "scale": {"domain": [0, 7]}, "title": "Cauchy Stress (MPa)", "axis": {"format": "~g", "values": [0,0.5,1,1.5,2,2.5,3,3.5,4,4.5,5,5.5,6,6.5,7], "labelExpr": "datum.value % 1 == 0 ? datum.label : ''"}},
        "detail": {"field": "c"}}},
      {"mark": {"type": "line", "opacity": 0},
       "encoding": {
        "x": {"field": "x", "type": "quantitative", "scale": {"domain": [1, 3]}, "axis": {"orient": "top", "title": null, "values": [1,1.25,1.5,1.75,2,2.25,2.5,2.75,3]}},
        "y": {"field": "y", "type": "quantitative", "scale": {"domain": [0, 7]}, "axis": {"orient": "right", "title": null, "values": [0,0.5,1,1.5,2,2.5,3,3.5,4,4.5,5,5.5,6,6.5,7]}},
        "detail": {"field": "c"}}}
     ],
     "resolve": {"axis": {"x": "independent", "y": "independent"}}}
  ],
  "config": {
    "view": {"stroke": "black", "strokeWidth": 1.5},
    "axis": {
      "grid": false, "domain": false, "tickColor": "black", "tickSize": -5, "tickWidth": 1.2,
      "labelFont": "Liberation Serif", "labelFontWeight": "bold", "labelFontSize": 10, "labelColor": "black",
      "labelPadding": 9, "labelFlush": false, "labelOverlap": false,
      "titleFont": "Liberation Serif", "titleFontWeight": "bold", "titleFontSize": 16, "titleColor": "black"
    },
    "axisLeft": {"titlePadding": 1},
    "axisBottom": {"titlePadding": 2, "labelPadding": 7},
    "axisTop": {"labels": false},
    "axisRight": {"labels": false},
    "title": {"font": "Liberation Sans", "fontWeight": "bold", "fontSize": 19, "anchor": "start", "offset": 9, "color": "black"}
  }
}
